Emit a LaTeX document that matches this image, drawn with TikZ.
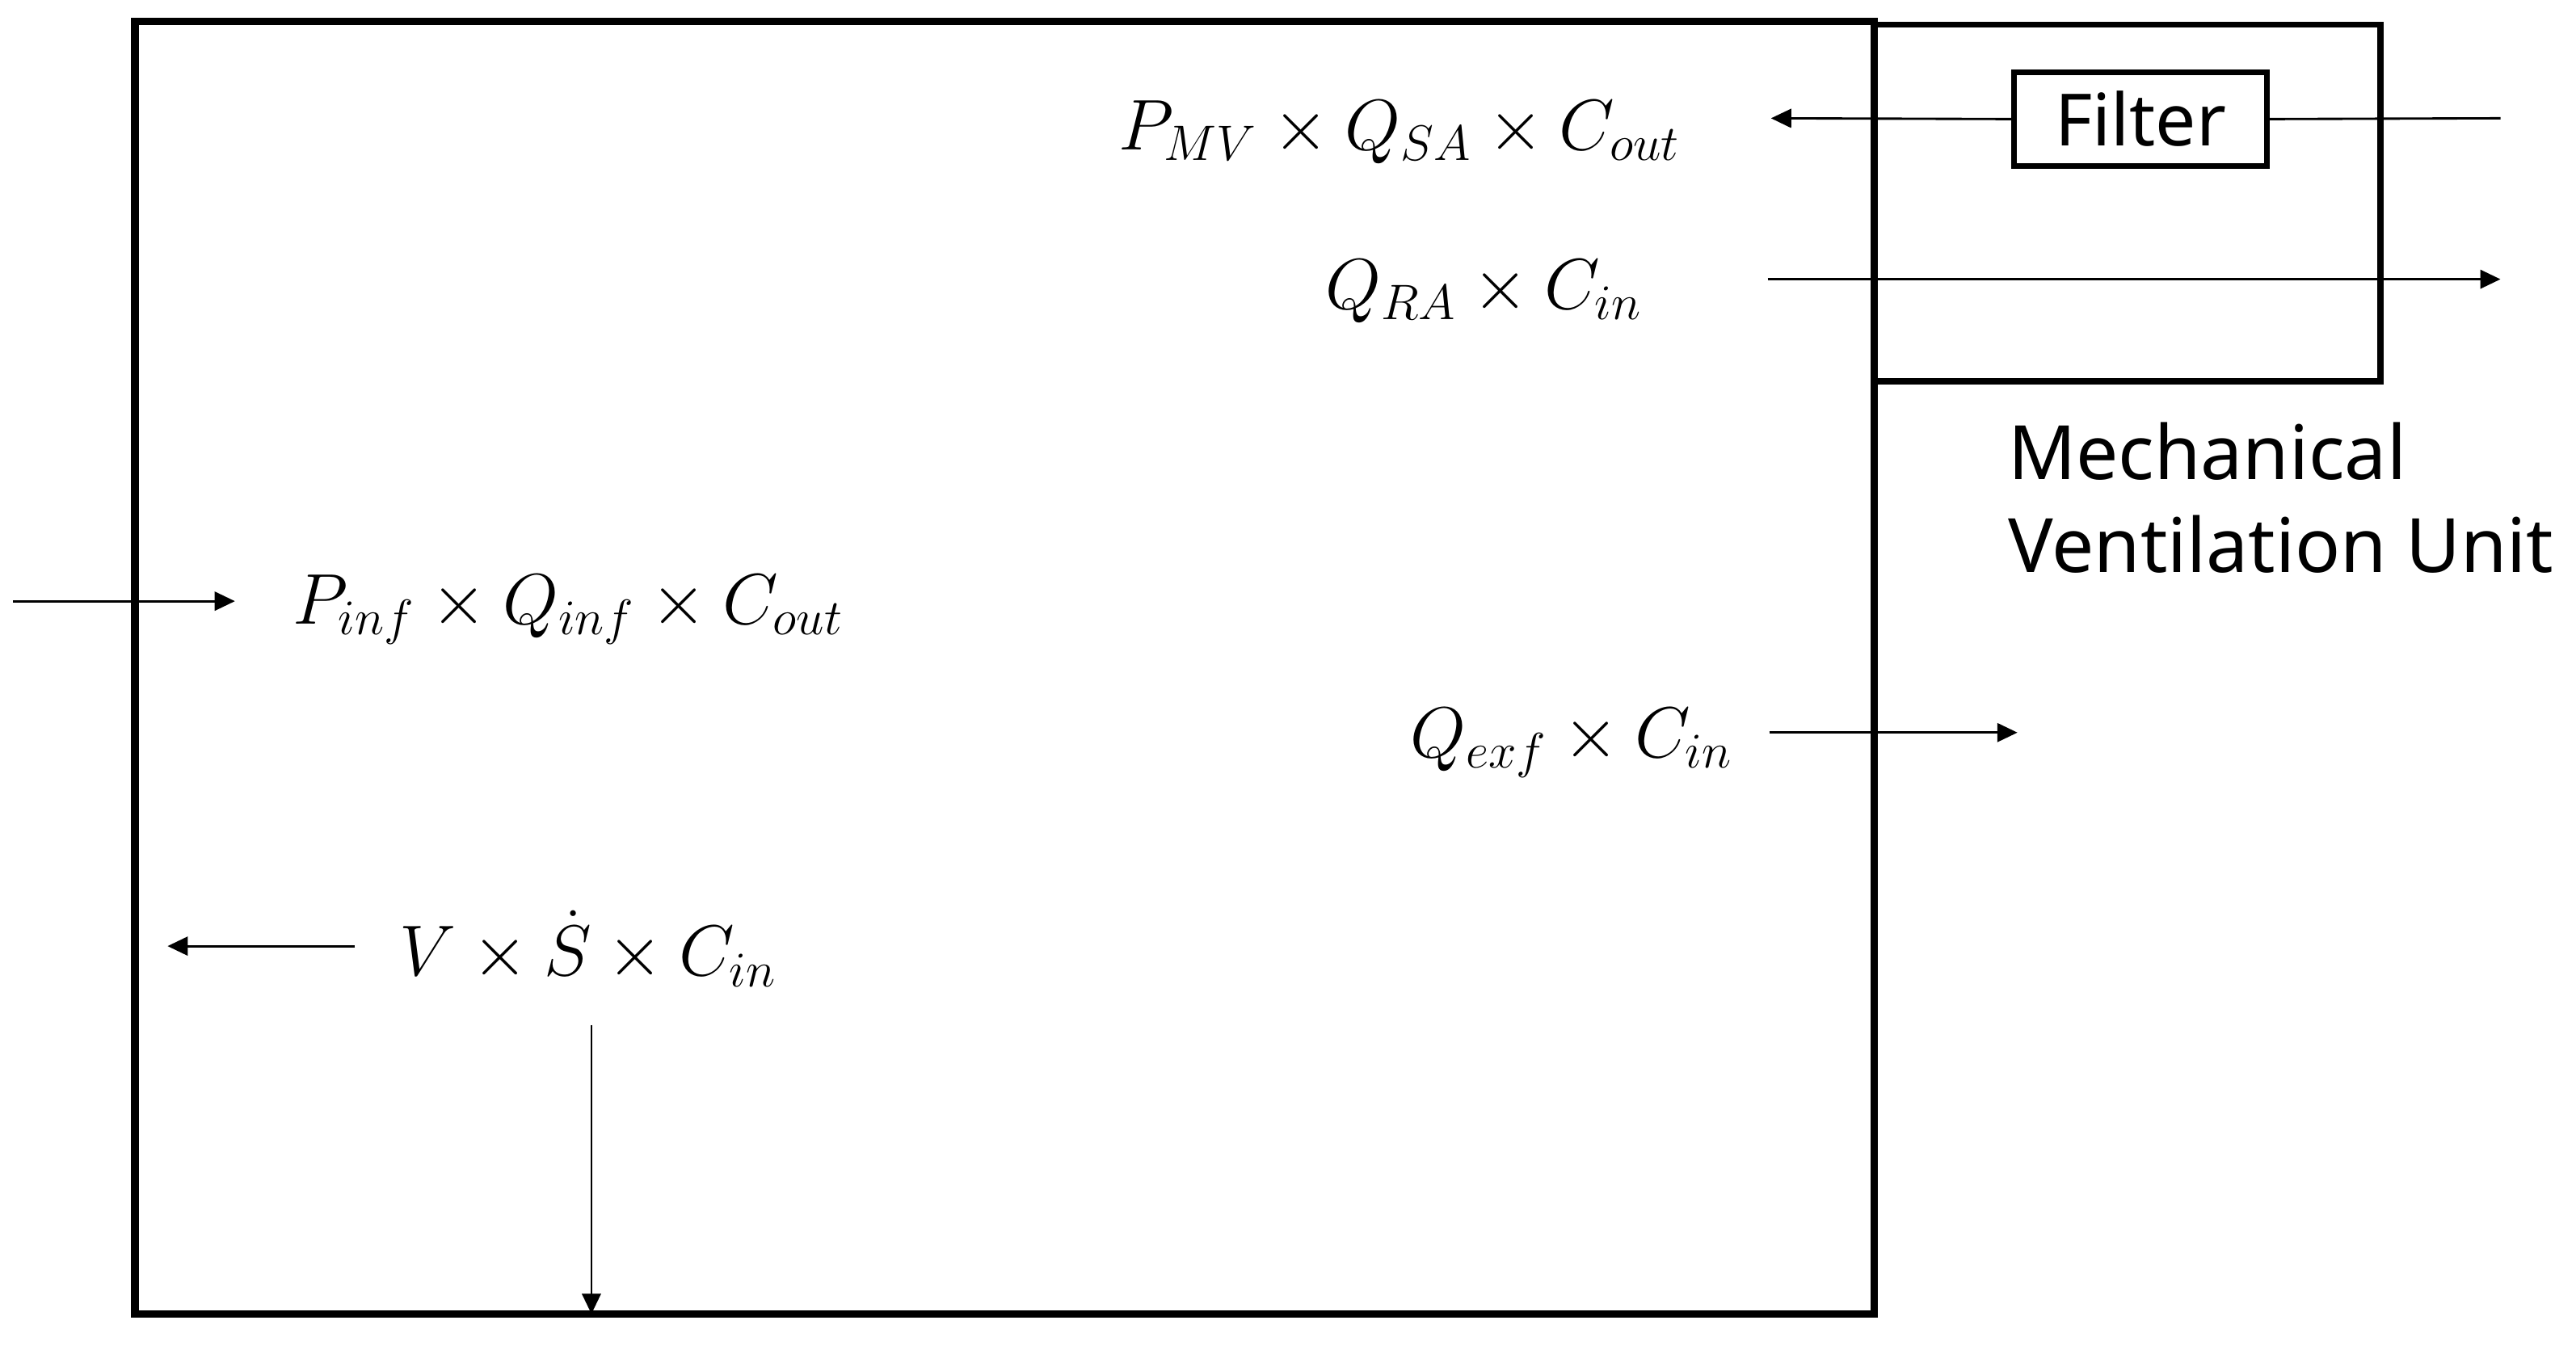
\documentclass[tikz,border=0pt]{standalone}
\usepackage{fontspec}
\setmainfont{Noto Sans}
\usetikzlibrary{arrows.meta}
\begin{document}
\begin{tikzpicture}[x=0.02cm,y=-0.02cm,
  wall/.style={draw, line width=2.7pt, inner sep=0pt, outer sep=0pt},
  unitbox/.style={draw, line width=2.2pt, inner sep=0pt, outer sep=0pt},
  filterbox/.style={draw, fill=white, line width=1.9pt, inner sep=0pt, outer sep=0pt,
    minimum width=3.08cm, minimum height=1.14cm, font=\fontsize{25}{30}\selectfont},
  flow/.style={line width=0.8pt},
  flowarr/.style={line width=0.8pt, -{Triangle[length=7pt,width=6.5pt]}},
  eq/.style={inner sep=0pt, font=\fontsize{26}{30}\selectfont},
  lbl/.style={inner sep=0pt, align=left, font=\fontsize{26}{32}\selectfont}]
\useasboundingbox (0,0) rectangle (1568,824);

% mechanical ventilation unit box
\node[unitbox, minimum width=6.16cm, minimum height=4.34cm] (mvu) at (1295,123.5) {};
% room
\node[wall, minimum width=21.18cm, minimum height=15.74cm] (room) at (611.5,406.5) {};
% filter
\node[filterbox] (filter) at (1303,72.5) {Filter};

% labels
\node[eq, anchor=base east] (pmv) at (1023,91) {$P_{MV}\times Q_{SA}\times C_{out}$};
\node[eq, anchor=base east] (qra) at (1000,188) {$Q_{RA}\times C_{in}$};
\node[eq, anchor=base west] (pinf) at (178,380) {$P_{inf}\times Q_{inf}\times C_{out}$};
\node[eq, anchor=base east] (qexf) at (1055,461) {$Q_{exf}\times C_{in}$};
\node[eq, anchor=base] (vsc) at (358,594) {$V\times \dot{S}\times C_{in}$};
\node[lbl, anchor=north west] (mvlabel) at (1222,257) {Mechanical\\Ventilation Unit};

% free ends
\coordinate (saIn) at (1522,72);
\coordinate (saOut) at (1078,72);
\coordinate (raIn) at (1076,170);
\coordinate (raOut) at (1522,170);
\coordinate (infIn) at (8,366);
\coordinate (infOut) at (143,366);
\coordinate (exfIn) at (1077,446);
\coordinate (exfOut) at (1228,446);
\coordinate (srcIn) at (216,576);
\coordinate (srcOut) at (102,576);
\coordinate (depIn) at (360,624);

% connectors
\draw[flow] (saIn) -- (filter.east);
\draw[flowarr] (filter.west) -- (saOut);
\draw[flowarr] (raIn) -- (raOut);
\draw[flowarr] (infIn) -- (infOut);
\draw[flowarr] (exfIn) -- (exfOut);
\draw[flowarr] (srcIn) -- (srcOut);
\draw[flowarr] (depIn) -- (depIn |- room.south);
\end{tikzpicture}
\end{document}
